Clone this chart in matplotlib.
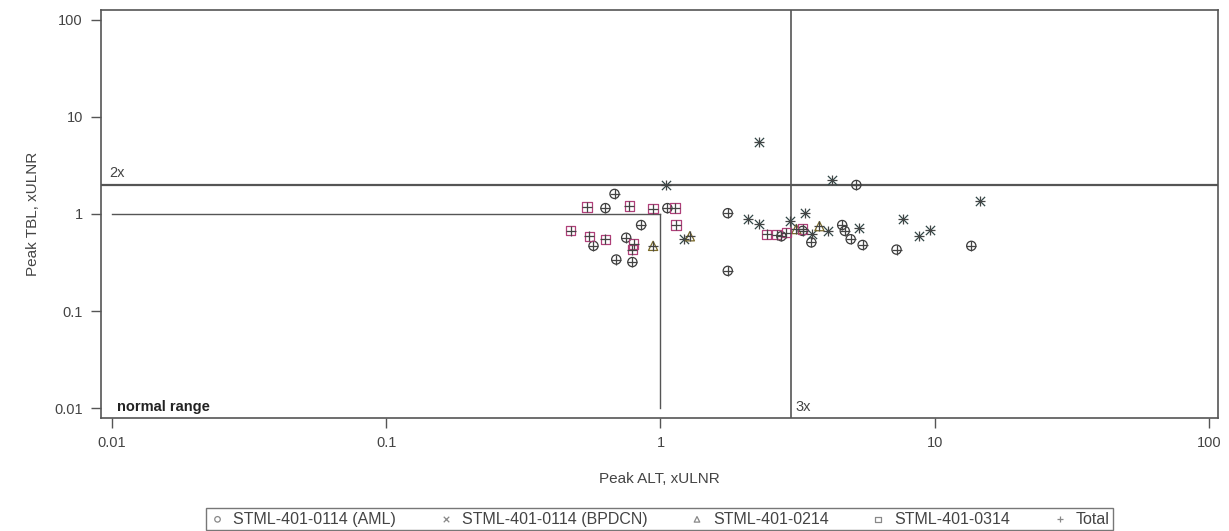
import matplotlib
matplotlib.use("Agg")
import matplotlib.pyplot as plt

plt.rcParams['font.family'] = ['Liberation Sans', 'DejaVu Sans']

# Peak ALT / peak TBL (x upper limit of normal range) by study
aml_alt = [0.68, 0.63, 1.06, 0.85, 0.57, 0.75, 0.69, 0.79, 1.76, 1.76,
           3.55, 3.30, 4.60, 4.70, 4.94, 5.46, 7.26, 13.6, 5.18, 2.76]
aml_tbl = [1.61, 1.15, 1.15, 0.77, 0.47, 0.57, 0.34, 0.32, 1.02, 0.26,
           0.51, 0.67, 0.77, 0.67, 0.55, 0.48, 0.43, 0.47, 1.99, 0.59]

bpdcn_alt = [1.05, 1.22, 2.08, 2.28, 2.98, 3.38, 3.58, 4.10, 5.30, 7.64,
             8.80, 9.60, 14.6, 2.28, 4.24]
bpdcn_tbl = [2.00, 0.55, 0.89, 0.79, 0.85, 1.02, 0.62, 0.67, 0.72, 0.89,
             0.59, 0.68, 1.36, 5.53, 2.24]

s0214_alt = [0.94, 1.28, 3.80, 3.13]
s0214_tbl = [0.47, 0.59, 0.75, 0.70]

s0314_alt = [0.54, 0.77, 0.94, 1.13, 1.14, 0.47, 0.55, 0.63, 0.80, 0.79,
             2.44, 2.65, 2.88, 3.30]
s0314_tbl = [1.18, 1.21, 1.13, 1.15, 0.77, 0.67, 0.59, 0.55, 0.49, 0.43,
             0.62, 0.61, 0.64, 0.70]

series_labels = ["STML-401-0114 (AML)", "STML-401-0114 (BPDCN)",
                 "STML-401-0214", "STML-401-0314", "Total"]
tick_values = [0.01, 0.1, 1, 10, 100]
tick_labels = ["0.01", "0.1", "1", "10", "100"]

total_alt = aml_alt + bpdcn_alt + s0214_alt + s0314_alt
total_tbl = aml_tbl + bpdcn_tbl + s0214_tbl + s0314_tbl

fig = plt.figure(figsize=(12.29, 5.31), dpi=100)
ax = fig.add_axes([0.0822, 0.2128, 0.9088, 0.7684])
ax.set_xscale('log')
ax.set_yscale('log')
ax.set_xlim(10 ** -2.04, 10 ** 2.033)
ax.set_ylim(10 ** -2.1, 10 ** 2.1)

ms = 44
lw = 0.9
ax.scatter(aml_alt, aml_tbl, s=ms, marker='o', facecolors='none',
           edgecolors='#3a3a3a', linewidths=lw, label=series_labels[0], zorder=3)
ax.scatter(bpdcn_alt, bpdcn_tbl, s=ms, marker='x', color='#344848',
           linewidths=lw, label=series_labels[1], zorder=3)
ax.scatter(s0214_alt, s0214_tbl, s=ms, marker='^', facecolors='none',
           edgecolors='#7a6a2a', linewidths=lw, label=series_labels[2], zorder=3)
ax.scatter(s0314_alt, s0314_tbl, s=ms, marker='s', facecolors='none',
           edgecolors='#b0407a', linewidths=lw, label=series_labels[3], zorder=3)
ax.scatter(total_alt, total_tbl, s=ms, marker='+', color='#444444',
           linewidths=lw, label=series_labels[4], zorder=4)

# Reference lines: 2x ULN bilirubin, 3x ULN ALT, and the normal-range box
line_col = '#555555'
ax.axhline(2, color=line_col, lw=1.6, zorder=2)
ax.axvline(3, color=line_col, lw=1.2, zorder=2)
ax.plot([0.01, 1], [1, 1], color=line_col, lw=1.0, zorder=2)
ax.plot([1, 1], [0.01, 1], color=line_col, lw=1.0, zorder=2)

ax.text(0.00975, 2.25, "2x", fontsize=10.5, color='#444444', va='bottom')
ax.text(3.12, 0.0088, "3x", fontsize=10.5, color='#444444', va='bottom')
ax.text(0.0104, 0.0088, "normal range", fontsize=10.5, fontweight='bold',
        color='#222222', va='bottom')

ax.set_xticks(tick_values)
ax.set_xticklabels(tick_labels)
ax.set_yticks(tick_values)
ax.set_yticklabels(tick_labels)
ax.minorticks_off()
ax.tick_params(axis='both', labelsize=10.5, labelcolor='#444444', color='#555555',
               length=7, width=1, pad=6)
for sp in ax.spines.values():
    sp.set_color('#555555')
    sp.set_linewidth(1.2)

ax.set_xlabel("Peak ALT, xULNR", fontsize=11, color='#444444', labelpad=16)
ax.set_ylabel("Peak TBL, xULNR", fontsize=11, color='#444444', labelpad=10)

leg = ax.legend(loc='upper center', bbox_to_anchor=(0.5, -0.2206), ncol=5,
                frameon=True, fancybox=False, fontsize=11.5, markerscale=0.6,
                handlelength=1.0, handletextpad=0.5, columnspacing=2.6,
                borderpad=0.22, borderaxespad=0.0,
                edgecolor='#555555', labelcolor='#444444')
leg.get_frame().set_linewidth(1.0)
for h in leg.legend_handles:
    h.set_edgecolor('#888888')
    if h.get_label() in (series_labels[1], series_labels[4]):
        h.set_facecolor('#888888')
    else:
        h.set_facecolor('none')

fig.savefig("out.png", dpi=100, facecolor='white')
